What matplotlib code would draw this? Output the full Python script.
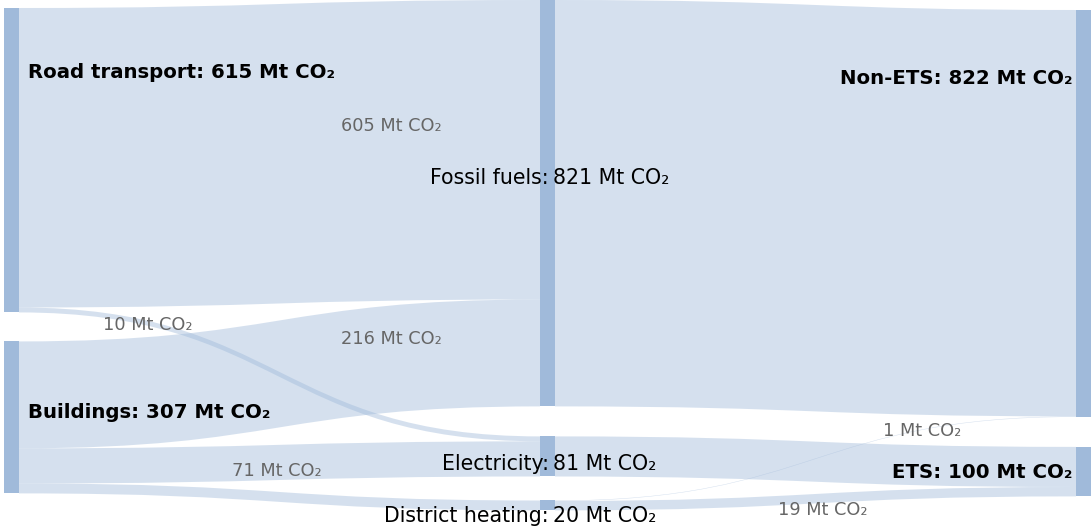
import matplotlib.pyplot as plt
from matplotlib.path import Path
from matplotlib.patches import PathPatch, Rectangle

# nodes (Mt CO2)
nodes = ['Road transport', 'Buildings', 'Fossil fuels', 'Electricity',
         'District heating', 'Non-ETS', 'ETS']
node_values = [615, 307, 821, 81, 20, 822, 100]
node_column = [0, 0, 1, 1, 1, 2, 2]

# links
link_source = [0, 0, 1, 1, 1, 2, 3, 4, 4]
link_target = [2, 3, 2, 3, 4, 5, 6, 5, 6]
link_values = [605, 10, 216, 71, 20, 821, 81, 1, 19]
link_labels = ['605 Mt CO₂', '10 Mt CO₂', '216 Mt CO₂', '71 Mt CO₂', '',
               '', '', '1 Mt CO₂', '19 Mt CO₂']

# layout (pixel-like coordinates)
col_x = [4, 540, 1076]
node_w = 15
scale = 0.495
col_top = [8, 0, 10]
col_pad = [[29], [30, 24], [30]]

node_col = '#a0bada'
link_col = (160/255, 186/255, 218/255, 0.44)

fig = plt.figure(figsize=(10.91, 5.29), dpi=100)
ax = fig.add_axes([0, 0, 1, 1])
ax.set_xlim(0, 1091)
ax.set_ylim(529, 0)
ax.axis('off')

# node positions
node_top = [0] * len(nodes)
node_h = [v * scale for v in node_values]
for c in range(3):
    y = col_top[c]
    idx = [i for i in range(len(nodes)) if node_column[i] == c]
    for k, i in enumerate(idx):
        node_top[i] = y
        y += node_h[i]
        if k < len(col_pad[c]):
            y += col_pad[c][k]

# link positions
src_off = list(node_top)
tgt_off = list(node_top)
for j in range(len(link_values)):
    s, t, v = link_source[j], link_target[j], link_values[j]
    w = v * scale
    x0 = col_x[node_column[s]] + node_w
    x1 = col_x[node_column[t]]
    ys0, ys1 = src_off[s], src_off[s] + w
    yt0, yt1 = tgt_off[t], tgt_off[t] + w
    src_off[s] += w
    tgt_off[t] += w
    xm = (x0 + x1) / 2
    verts = [(x0, ys0), (xm, ys0), (xm, yt0), (x1, yt0),
             (x1, yt1), (xm, yt1), (xm, ys1), (x0, ys1), (x0, ys0)]
    codes = [Path.MOVETO, Path.CURVE4, Path.CURVE4, Path.CURVE4,
             Path.LINETO, Path.CURVE4, Path.CURVE4, Path.CURVE4, Path.CLOSEPOLY]
    ax.add_patch(PathPatch(Path(verts, codes), facecolor=link_col,
                           edgecolor='none', zorder=1))

for i in range(len(nodes)):
    ax.add_patch(Rectangle((col_x[node_column[i]], node_top[i]), node_w, node_h[i],
                           facecolor=node_col, edgecolor='none', zorder=2))

# node labels
lbl_y = [73, 412, 178, 464, 516, 78, 472]
for i in range(len(nodes)):
    txt = f'{nodes[i]}: {node_values[i]} Mt CO₂'
    c = node_column[i]
    if c == 0:
        ax.text(28, lbl_y[i], txt, ha='left', va='center', fontsize=14.2,
                fontweight='bold', color='black', zorder=3)
    elif c == 2:
        ax.text(1073, lbl_y[i], txt, ha='right', va='center', fontsize=14.2,
                fontweight='bold', color='black', zorder=3)
    else:
        ax.text(549, lbl_y[i], nodes[i] + ':', ha='right', va='center',
                fontsize=14.8, color='black', zorder=3)
        ax.text(553, lbl_y[i], f'{node_values[i]} Mt CO₂', ha='left', va='center',
                fontsize=14.8, color='black', zorder=3)

# link labels
link_lbl_xy = [(391, 126), (148, 325), (391, 339), (277, 471), None,
               None, None, (922, 431), (823, 510)]
for j, lab in enumerate(link_labels):
    if lab:
        ax.text(link_lbl_xy[j][0], link_lbl_xy[j][1], lab, ha='center', va='center',
                fontsize=12.8, color='#666666', zorder=3)

fig.savefig('out.png', dpi=100)
